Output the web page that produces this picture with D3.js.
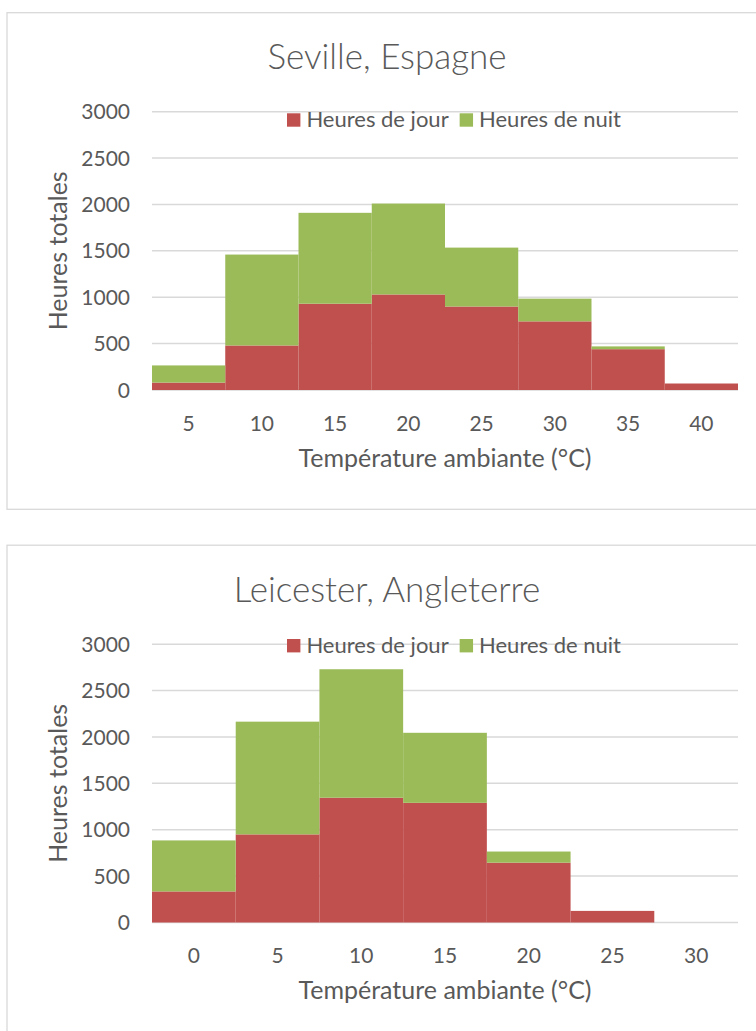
<!DOCTYPE html>
<html>
<head>
<meta charset="utf-8">
<script src="https://cdn.jsdelivr.net/npm/d3@7"></script>
<style>
  html, body { margin: 0; padding: 0; background: #fff; overflow: hidden; }
  svg { display: block; }
  text { font-family: Lato, "Open Sans", sans-serif; fill: #595959; }
</style>
</head>
<body>
<svg id="chart" width="756" height="1031"></svg>
<script>
// Hours per ambient-temperature bin (5 °C bins), split into daytime and night-time hours
const sevilleTemps = [5, 10, 15, 20, 25, 30, 35, 40];
const sevilleDay   = [80, 480, 930, 1030, 900, 740, 440, 70];
const sevilleNight = [185, 980, 980, 980, 635, 245, 30, 0];

const leicesterTemps = [0, 5, 10, 15, 20, 25, 30];
const leicesterDay   = [335, 950, 1345, 1290, 645, 125, 0];
const leicesterNight = [550, 1215, 1385, 755, 120, 0, 0];

const yTicks = [0, 500, 1000, 1500, 2000, 2500, 3000];
const seriesNames = ["Heures de jour", "Heures de nuit"];
const seriesKeys = ["day", "night"];
const seriesColors = ["#C0504D", "#9BBB59"];

const xTitle = "Température ambiante (°C)";
const yTitle = "Heures totales";

const panels = [
  { title: "Seville, Espagne", temps: sevilleTemps, day: sevilleDay, night: sevilleNight, offset: 0, legendDy: 8.3 },
  { title: "Leicester, Angleterre", temps: leicesterTemps, day: leicesterDay, night: leicesterNight, offset: 532.5, legendDy: 1.5 }
];

const svg = d3.select("#chart");

panels.forEach(p => {
  const g = svg.append("g").attr("transform", `translate(0,${p.offset})`);

  // chart frame
  g.append("rect")
    .attr("x", 7).attr("y", 12.7)
    .attr("width", 770).attr("height", 496.6)
    .attr("fill", "#fff").attr("stroke", "#d9d9d9").attr("stroke-width", 1.3);

  const plot = { left: 152, right: 738, top: 111.7, bottom: 390 };

  const x = d3.scaleBand().domain(p.temps).range([plot.left, plot.right]).padding(0);
  const y = d3.scaleLinear().domain([0, 3000]).range([plot.bottom, plot.top]);

  // gridlines
  g.append("g").selectAll("line").data(yTicks).join("line")
    .attr("x1", plot.left).attr("x2", plot.right)
    .attr("y1", d => y(d)).attr("y2", d => y(d))
    .attr("stroke", "#d9d9d9").attr("stroke-width", 1.5);

  // y tick labels
  g.append("g").selectAll("text").data(yTicks).join("text")
    .attr("x", 130).attr("y", d => y(d) + 7.6)
    .attr("text-anchor", "end")
    .style("font-size", "21px")
    .text(d => d);

  // stacked bars
  const rows = p.temps.map((t, i) => ({ temp: t, day: p.day[i], night: p.night[i] }));
  const stacked = d3.stack().keys(seriesKeys)(rows);
  g.append("g").selectAll("g").data(stacked).join("g")
    .attr("fill", (d, i) => seriesColors[i])
    .selectAll("rect").data(d => d).join("rect")
      .attr("x", d => x(d.data.temp))
      .attr("width", x.bandwidth())
      .attr("y", d => y(d[1]))
      .attr("height", d => y(d[0]) - y(d[1]));

  // x tick labels
  g.append("g").selectAll("text").data(p.temps).join("text")
    .attr("x", d => x(d) + x.bandwidth() / 2)
    .attr("y", 430.7)
    .attr("text-anchor", "middle")
    .style("font-size", "21px")
    .text(d => d);

  // axis titles
  g.append("text")
    .attr("x", (plot.left + plot.right) / 2).attr("y", 466.5)
    .attr("text-anchor", "middle")
    .style("font-size", "25px")
    .text(xTitle);

  g.append("text")
    .attr("transform", `translate(66.5,${(plot.top + plot.bottom) / 2}) rotate(-90)`)
    .attr("text-anchor", "middle")
    .style("font-size", "25px")
    .text(yTitle);

  // chart title
  g.append("text")
    .attr("x", 387).attr("y", 69.3)
    .attr("text-anchor", "middle")
    .style("font-size", "35px").style("font-weight", 300)
    .text(p.title);

  // legend
  const legend = g.append("g");
  const legendY = plot.top + p.legendDy;
  let cx = 0;
  seriesNames.forEach((name, i) => {
    const item = legend.append("g").attr("transform", `translate(${cx},0)`);
    item.append("rect")
      .attr("x", 0).attr("y", legendY - 6.7)
      .attr("width", 13.4).attr("height", 13.4)
      .attr("fill", seriesColors[i]);
    const t = item.append("text")
      .attr("x", 19.4).attr("y", legendY + 6.8)
      .style("font-size", "22px")
      .text(name);
    cx += 19.4 + t.node().getComputedTextLength() + 11;
  });
  const legendWidth = cx - 11;
  legend.attr("transform", `translate(${454 - legendWidth / 2},0)`);
});
</script>
</body>
</html>
